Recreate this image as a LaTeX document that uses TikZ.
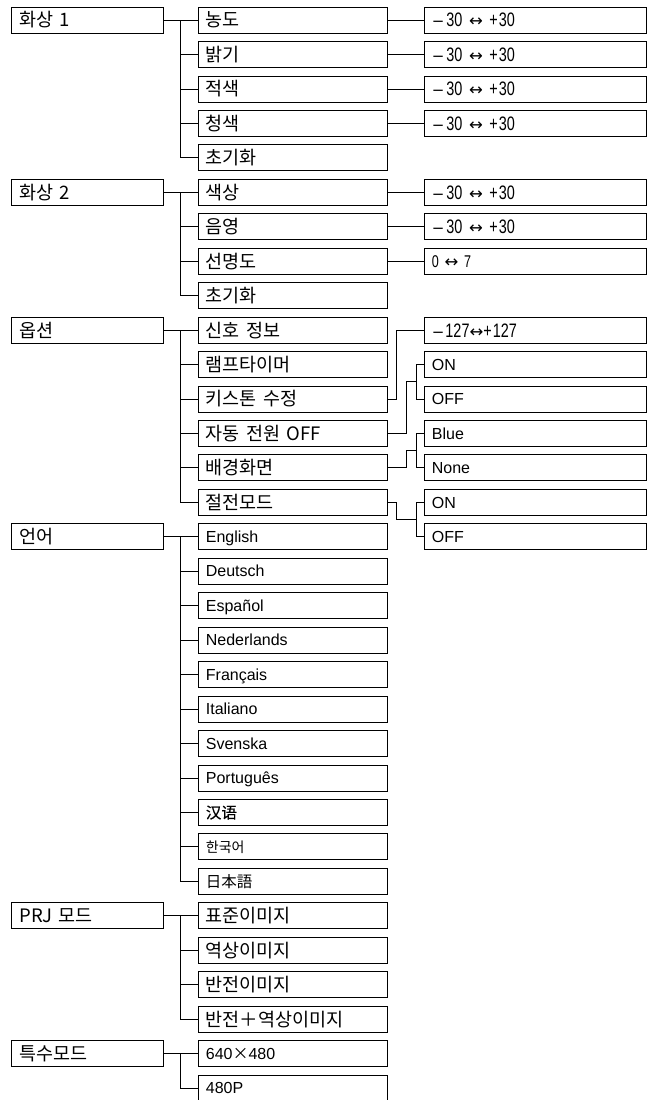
\documentclass[tikz,border=0pt]{standalone}
\usepackage{fontspec}
\newfontfamily\krf{Noto Sans CJK KR}
\newfontfamily\zhf[FakeBold=0.6]{Noto Sans CJK SC}
\newfontfamily\jpf{Noto Sans CJK JP}
\newfontfamily\enf{Liberation Sans}
\newfontfamily\cnf[FakeStretch=0.74]{Liberation Sans}
\newfontfamily\arf{DejaVu Sans}
\usetikzlibrary{calc}
\newcommand{\yy}[1]{20+34.45*#1}
\newcommand{\lra}{{\fontsize{16.5}{16}\arf ↔}}
\newcommand{\mns}{{\fontsize{15}{16}\arf −}}
\newcommand{\tms}{{\fontsize{16}{16}\krf ×}}
\tikzset{
  box/.style={draw, line width=0.8pt, rectangle, anchor=west, minimum height=26pt,
    inner ysep=0pt, inner xsep=8pt, align=left},
  lb/.style={box, minimum width=152pt, text width=136pt},
  mb/.style={box, minimum width=189pt, text width=173pt},
  vb/.style={box, minimum width=222pt, text width=206pt},
  kr/.style={font=\fontsize{18.5}{20}\krf, text height=14pt, text depth=0pt},
  krs/.style={font=\fontsize{14}{16}\krf, text height=10.8pt, text depth=0pt},
  zh/.style={font=\fontsize{15.5}{17}\zhf, text height=12pt, text depth=0pt},
  jp/.style={font=\fontsize{15.5}{16}\jpf, text height=12pt, text depth=0pt},
  en/.style={font=\fontsize{16}{18}\enf, text height=11.5pt, text depth=0pt},
  num/.style={font=\fontsize{19.5}{20}\cnf, text height=14pt, text depth=0pt},
  nums/.style={font=\fontsize{17}{18}\cnf, text height=12.2pt, text depth=0pt},
  ln/.style={line width=0.8pt},
}
\begin{document}
\begin{tikzpicture}[x=1pt, y=-1pt]
\fill[white] (0,0) rectangle (653,1100);
\useasboundingbox (0,0) rectangle (653,1100);

% ---- column 1
\node[lb,kr] (a0) at (11,{\yy{0}}) {화상 1};
\node[lb,kr] (a1) at (11,{\yy{5}}) {화상 2};
\node[lb,kr] (a2) at (11,{\yy{9}}) {옵션};
\node[lb,kr] (a3) at (11,{\yy{15}}) {언어};
\node[lb,kr] (a4) at (11,{\yy{26}}) {PRJ 모드};
\node[lb,kr] (a5) at (11,{\yy{30}}) {특수모드};

% ---- column 2
\node[mb,kr] (b0) at (197.5,{\yy{0}}) {농도};
\node[mb,kr] (b1) at (197.5,{\yy{1}}) {밝기};
\node[mb,kr] (b2) at (197.5,{\yy{2}}) {적색};
\node[mb,kr] (b3) at (197.5,{\yy{3}}) {청색};
\node[mb,kr] (b4) at (197.5,{\yy{4}}) {초기화};
\node[mb,kr] (b5) at (197.5,{\yy{5}}) {색상};
\node[mb,kr] (b6) at (197.5,{\yy{6}}) {음영};
\node[mb,kr] (b7) at (197.5,{\yy{7}}) {선명도};
\node[mb,kr] (b8) at (197.5,{\yy{8}}) {초기화};
\node[mb,kr] (b9) at (197.5,{\yy{9}}) {신호 정보};
\node[mb,kr] (b10) at (197.5,{\yy{10}}) {램프타이머};
\node[mb,kr] (b11) at (197.5,{\yy{11}}) {키스톤 수정};
\node[mb,kr] (b12) at (197.5,{\yy{12}}) {자동 전원 OFF};
\node[mb,kr] (b13) at (197.5,{\yy{13}}) {배경화면};
\node[mb,kr] (b14) at (197.5,{\yy{14}}) {절전모드};
\node[mb,en] (b15) at (197.5,{\yy{15}}) {English};
\node[mb,en] (b16) at (197.5,{\yy{16}}) {Deutsch};
\node[mb,en] (b17) at (197.5,{\yy{17}}) {Español};
\node[mb,en] (b18) at (197.5,{\yy{18}}) {Nederlands};
\node[mb,en] (b19) at (197.5,{\yy{19}}) {Français};
\node[mb,en] (b20) at (197.5,{\yy{20}}) {Italiano};
\node[mb,en] (b21) at (197.5,{\yy{21}}) {Svenska};
\node[mb,en] (b22) at (197.5,{\yy{22}}) {Português};
\node[mb,zh] (b23) at (197.5,{\yy{23}}) {汉语};
\node[mb,krs] (b24) at (197.5,{\yy{24}}) {한국어};
\node[mb,jp] (b25) at (197.5,{\yy{25}}) {日本語};
\node[mb,kr] (b26) at (197.5,{\yy{26}}) {표준이미지};
\node[mb,kr] (b27) at (197.5,{\yy{27}}) {역상이미지};
\node[mb,kr] (b28) at (197.5,{\yy{28}}) {반전이미지};
\node[mb,kr] (b29) at (197.5,{\yy{29}}) {반전＋역상이미지};
\node[mb,en] (b30) at (197.5,{\yy{30}}) {640\tms480};
\node[mb,en] (b31) at (197.5,{\yy{31}}) {480P};

% ---- column 3
\node[vb,num] (v0) at (423.5,{\yy{0}}) {\mns\hspace{2pt}30 \lra{} +\hspace{1pt}30};
\node[vb,num] (v1) at (423.5,{\yy{1}}) {\mns\hspace{2pt}30 \lra{} +\hspace{1pt}30};
\node[vb,num] (v2) at (423.5,{\yy{2}}) {\mns\hspace{2pt}30 \lra{} +\hspace{1pt}30};
\node[vb,num] (v3) at (423.5,{\yy{3}}) {\mns\hspace{2pt}30 \lra{} +\hspace{1pt}30};
\node[vb,num] (v5) at (423.5,{\yy{5}}) {\mns\hspace{2pt}30 \lra{} +\hspace{1pt}30};
\node[vb,num] (v6) at (423.5,{\yy{6}}) {\mns\hspace{2pt}30 \lra{} +\hspace{1pt}30};
\node[vb,nums] (v7) at (423.5,{\yy{7}}) {0 \lra{} 7};
\node[vb,num] (w9) at (423.5,{\yy{9}}) {\mns\hspace{1pt}127\lra{}+\hspace{1pt}127};
\node[vb,en] (w10) at (423.5,{\yy{10}}) {ON};
\node[vb,en] (w11) at (423.5,{\yy{11}}) {OFF};
\node[vb,en] (w12) at (423.5,{\yy{12}}) {Blue};
\node[vb,en] (w13) at (423.5,{\yy{13}}) {None};
\node[vb,en] (w14) at (423.5,{\yy{14}}) {ON};
\node[vb,en] (w15) at (423.5,{\yy{15}}) {OFF};

% ---- trunks column 1 -> column 2
\draw[ln] (a0.east) -- (b0.west);
\foreach \c in {b1,b2,b3,b4} \draw[ln] (a0.east) ++(17,0) |- (\c.west);
\draw[ln] (a1.east) -- (b5.west);
\foreach \c in {b6,b7,b8} \draw[ln] (a1.east) ++(17,0) |- (\c.west);
\draw[ln] (a2.east) -- (b9.west);
\foreach \c in {b10,b11,b12,b13,b14} \draw[ln] (a2.east) ++(17,0) |- (\c.west);
\draw[ln] (a3.east) -- (b15.west);
\foreach \c in {b16,b17,b18,b19,b20,b21,b22,b23,b24,b25} \draw[ln] (a3.east) ++(17,0) |- (\c.west);
\draw[ln] (a4.east) -- (b26.west);
\foreach \c in {b27,b28,b29} \draw[ln] (a4.east) ++(17,0) |- (\c.west);
\draw[ln] (a5.east) -- (b30.west);
\draw[ln] (a5.east) ++(17,0) |- (b31.west);

% ---- column 2 -> values
\foreach \i in {0,1,2,3,5,6,7} \draw[ln] (b\i.east) -- (v\i.west);

% ---- options sub-branches
\coordinate (j1) at ($(w10.west)!0.5!(w11.west)+(-7,0)$);
\coordinate (j2) at ($(w12.west)!0.5!(w13.west)+(-7,0)$);
\coordinate (j3) at ($(w14.west)!0.5!(w15.west)+(-7,0)$);
\draw[ln] (b11.east) -- ++(9,0) |- (w9.west);
\draw[ln] (b12.east) -- ++(19,0) |- (j1);
\draw[ln] (w10.west) -- ++(-7,0) |- (w11.west);
\draw[ln] (b13.east) -- ++(19,0) |- (j2);
\draw[ln] (w12.west) -- ++(-7,0) |- (w13.west);
\draw[ln] (b14.east) -- ++(9,0) |- (j3);
\draw[ln] (w14.west) -- ++(-7,0) |- (w15.west);
\end{tikzpicture}
\end{document}
